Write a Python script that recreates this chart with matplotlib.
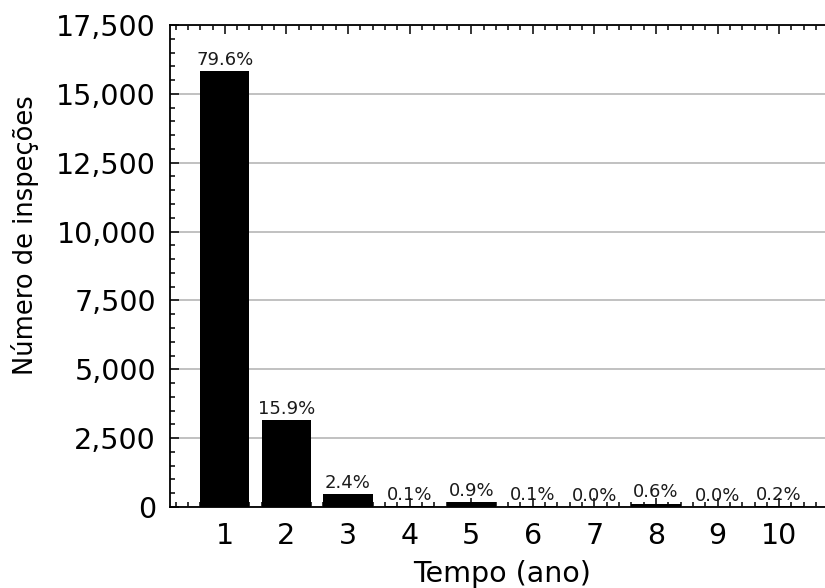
import numpy as np
import matplotlib.pyplot as plt
from matplotlib.ticker import AutoMinorLocator, MultipleLocator, StrMethodFormatter

# inspections per elapsed time (years)
anos = [1, 2, 3, 4, 5, 6, 7, 8, 9, 10]
inspecoes = [15824, 3165, 483, 24, 185, 24, 4, 125, 2, 44]

total = sum(inspecoes)
percentuais = [100 * v / total for v in inspecoes]

fig = plt.figure(figsize=(8.25, 5.88), dpi=100)
ax = fig.add_axes([170 / 825, 81 / 588, 664 / 825, 482 / 588])

bars = ax.bar(anos, inspecoes, width=0.8, color='black', zorder=2)
for b, p in zip(bars, percentuais):
    ax.annotate(f'{p:.1f}%', (b.get_x() + b.get_width() / 2, b.get_height()),
                xytext=(0, 1.5), textcoords='offset points',
                ha='center', va='bottom', fontsize=13, color='#1a1a1a')

ax.set_ylim(0, 17500)
ax.set_xticks(anos)
ax.yaxis.set_major_locator(MultipleLocator(2500))
ax.yaxis.set_major_formatter(StrMethodFormatter('{x:,.0f}'))
ax.xaxis.set_minor_locator(AutoMinorLocator(5))
ax.yaxis.set_minor_locator(AutoMinorLocator(5))

ax.tick_params(which='both', direction='in', top=True, right=True, width=1.1)
ax.tick_params(which='major', length=6.5, labelsize=20.5)
ax.tick_params(axis='x', which='major', pad=11)
ax.tick_params(axis='y', which='major', pad=10)
ax.tick_params(which='minor', length=3.5)
for s in ax.spines.values():
    s.set_linewidth(1.3)

ax.yaxis.grid(True, color='#b0b0b0', linewidth=1.1, zorder=0)
ax.set_axisbelow(True)

ax.set_xlabel('Tempo (ano)', fontsize=20.5, labelpad=7)
ax.set_ylabel('Número de inspeções', fontsize=18.5)
ax.yaxis.set_label_coords(-0.198, 0.565)

fig.savefig('out.png', dpi=100)
